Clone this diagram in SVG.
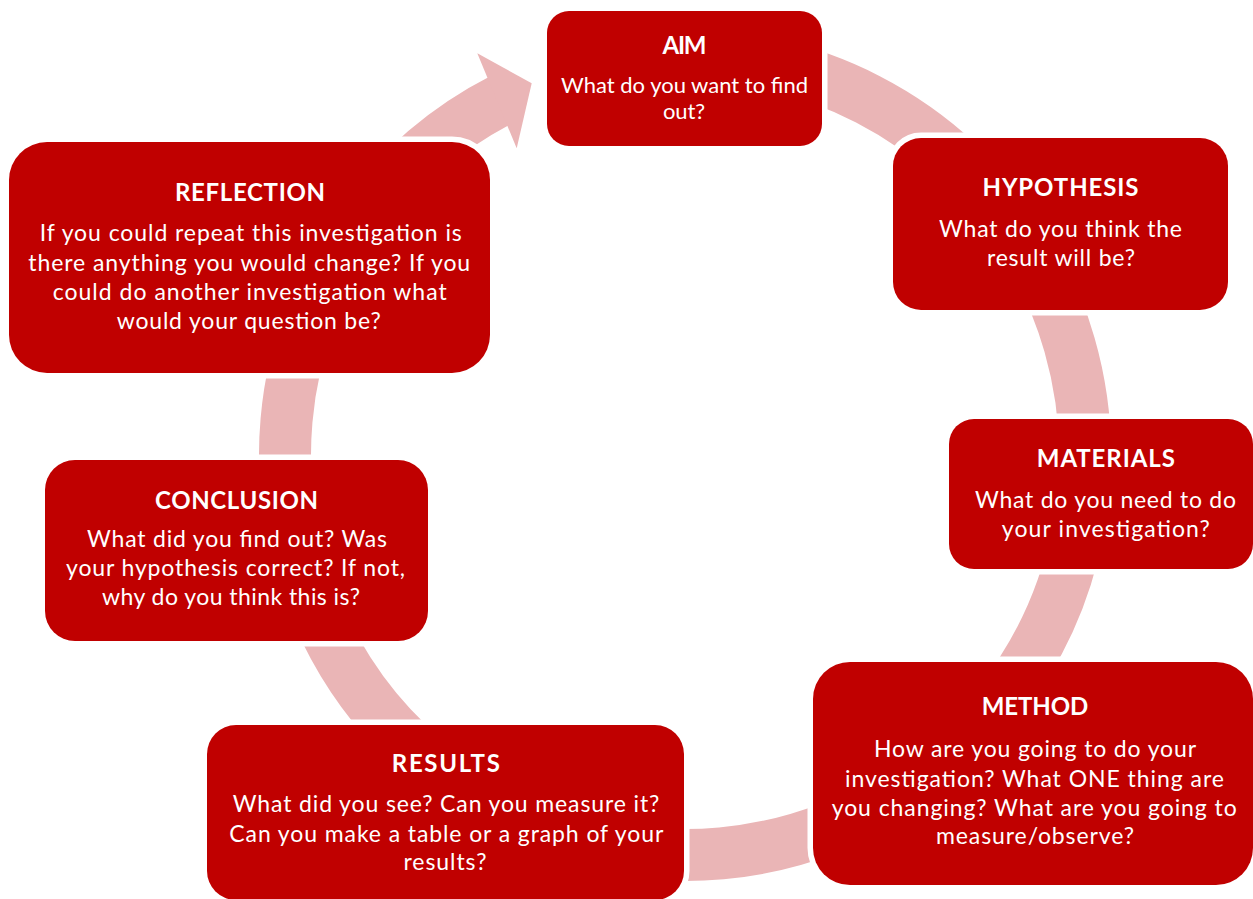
<svg xmlns="http://www.w3.org/2000/svg" width="1253" height="899" viewBox="0 0 1253 899">
<style>
.box{fill:#C00000;stroke:#FFFFFF;stroke-width:11;paint-order:stroke}
.ring{fill:none;stroke:#EAB5B6;stroke-width:52}
.head{fill:#EAB5B6}
text{fill:#FFFFFF;font-family:Lato,"Open Sans","Liberation Sans",sans-serif;text-anchor:middle}
.t{font-weight:bold;font-size:24px}
.b{font-size:23px}
.s{font-size:22px}
</style>
<rect width="1253" height="899" fill="#FFFFFF"/>
<g id="connectors">
<path class="ring" d="M 581.47 68.63 A 400 400 0 1 1 503.4 98.6"/>
<polygon class="head" points="477.3,53.3 531.7,83.3 516.7,148.3"/>
</g>
<g id="aim">
<rect class="box" x="547" y="11" width="275" height="135" rx="22"/>
<text class="t" x="684.5" y="54" textLength="44" lengthAdjust="spacing">AIM</text>
<text class="s" x="684.5" y="93" textLength="247" lengthAdjust="spacing">What do you want to find</text>
<text class="s" x="684" y="118.5" textLength="42" lengthAdjust="spacing">out?</text>
</g>
<g id="hypothesis">
<rect class="box" x="893" y="138" width="335" height="172" rx="28"/>
<text class="t" x="1060.5" y="195.7" textLength="156" lengthAdjust="spacing">HYPOTHESIS</text>
<text class="b" x="1060.5" y="237.3" textLength="243" lengthAdjust="spacing">What do you think the</text>
<text class="b" x="1061" y="266" textLength="148" lengthAdjust="spacing">result will be?</text>
</g>
<g id="materials">
<rect class="box" x="949" y="419" width="304" height="150" rx="25"/>
<text class="t" x="1105.8" y="466.7" textLength="138" lengthAdjust="spacing">MATERIALS</text>
<text class="b" x="1105.5" y="507.7" textLength="261" lengthAdjust="spacing">What do you need to do</text>
<text class="b" x="1105.8" y="536.7" textLength="208" lengthAdjust="spacing">your investigation?</text>
</g>
<g id="method">
<rect class="box" x="813" y="662" width="440" height="223" rx="37"/>
<text class="t" x="1035" y="715" textLength="106.6" lengthAdjust="spacing">METHOD</text>
<text class="b" x="1035" y="757.3" textLength="322" lengthAdjust="spacing">How are you going to do your</text>
<text class="b" x="1034.5" y="786.7" textLength="379" lengthAdjust="spacing">investigation? What ONE thing are</text>
<text class="b" x="1034.2" y="815.7" textLength="405" lengthAdjust="spacing">you changing? What are you going to</text>
<text class="b" x="1035" y="844.3" textLength="198" lengthAdjust="spacing">measure/observe?</text>
</g>
<g id="results">
<rect class="box" x="207" y="725" width="477" height="175" rx="29"/>
<text class="t" x="445.8" y="772.3" textLength="108" lengthAdjust="spacing">RESULTS</text>
<text class="b" x="446" y="811.7" textLength="426.6" lengthAdjust="spacing">What did you see? Can you measure it?</text>
<text class="b" x="446.3" y="841.7" textLength="434" lengthAdjust="spacing">Can you make a table or a graph of your</text>
<text class="b" x="445" y="870" textLength="83" lengthAdjust="spacing">results?</text>
</g>
<g id="conclusion">
<rect class="box" x="45" y="460" width="383" height="181" rx="30"/>
<text class="t" x="236.5" y="508.7" textLength="163" lengthAdjust="spacing">CONCLUSION</text>
<text class="b" x="237" y="547" textLength="300" lengthAdjust="spacing">What did you find out? Was</text>
<text class="b" x="235.5" y="576" textLength="339" lengthAdjust="spacing">your hypothesis correct? If not,</text>
<text class="b" x="231" y="605" textLength="258" lengthAdjust="spacing">why do you think this is?</text>
</g>
<g id="reflection">
<rect class="box" x="9" y="142" width="481" height="231" rx="38"/>
<text class="t" x="250" y="201" textLength="150" lengthAdjust="spacing">REFLECTION</text>
<text class="b" x="250.8" y="241" textLength="422" lengthAdjust="spacing">If you could repeat this investigation is</text>
<text class="b" x="249.2" y="270.5" textLength="442" lengthAdjust="spacing">there anything you would change? If you</text>
<text class="b" x="249.7" y="300" textLength="394" lengthAdjust="spacing">could do another investigation what</text>
<text class="b" x="248.7" y="329" textLength="264" lengthAdjust="spacing">would your question be?</text>
</g>
</svg>
